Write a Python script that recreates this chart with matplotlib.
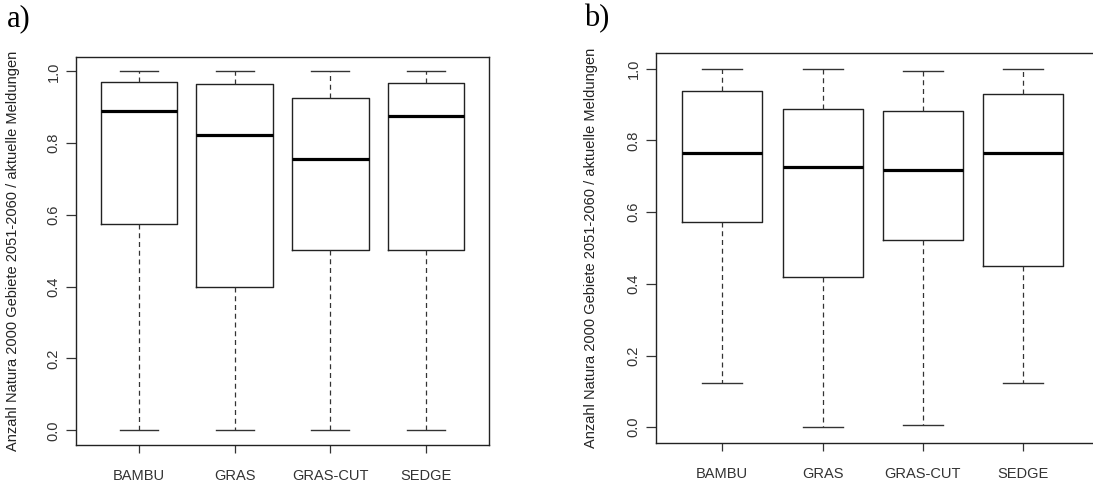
import matplotlib.pyplot as plt

plt.rcParams['font.family'] = ['Liberation Sans', 'DejaVu Sans']

groups = ['BAMBU', 'GRAS', 'GRAS-CUT', 'SEDGE']

# a) Boxplot-Kennwerte
a_lo = [0.0, 0.0, 0.0, 0.0]
a_q1 = [0.574, 0.400, 0.502, 0.502]
a_med = [0.890, 0.824, 0.757, 0.876]
a_q3 = [0.970, 0.965, 0.926, 0.968]
a_hi = [1.0, 1.0, 1.0, 1.0]

# b) Boxplot-Kennwerte
b_lo = [0.123, 0.0, 0.007, 0.123]
b_q1 = [0.572, 0.418, 0.522, 0.449]
b_med = [0.764, 0.725, 0.717, 0.764]
b_q3 = [0.939, 0.889, 0.881, 0.930]
b_hi = [1.0, 1.0, 0.993, 1.0]

ylab = 'Anzahl Natura 2000 Gebiete 2051-2060 / aktuelle Meldungen'
W, H = 1093, 486


def panel(rect, lo, q1, med, q3, hi, xlim, ylim, tag, tagpos):
    l, t, r, b = rect
    ax = fig.add_axes([l / W, 1 - b / H, (r - l) / W, (b - t) / H])
    stats = [dict(label=g, whislo=w0, q1=a, med=m, q3=c, whishi=w1)
             for g, w0, a, m, c, w1 in zip(groups, lo, q1, med, q3, hi)]
    ax.bxp(stats, positions=[1, 2, 3, 4], widths=0.8, capwidths=0.4,
           showfliers=False,
           boxprops=dict(color='#222222', linewidth=1.0),
           medianprops=dict(color='black', linewidth=2.3, solid_capstyle='butt'),
           whiskerprops=dict(color='#333333', linewidth=0.9, linestyle=(0, (4, 3))),
           capprops=dict(color='#333333', linewidth=1.0))
    ax.set_xlim(*xlim)
    ax.set_ylim(*ylim)
    ax.set_yticks([0, 0.2, 0.4, 0.6, 0.8, 1.0])
    ax.set_yticklabels(['0.0', '0.2', '0.4', '0.6', '0.8', '1.0'],
                       rotation=90, va='center')
    ax.tick_params(axis='y', length=7, width=0.9, pad=4, labelsize=10.5,
                   colors='#333333')
    ax.tick_params(axis='x', length=6, width=0.9, pad=11, labelsize=10.5,
                   colors='#333333')
    for s in ax.spines.values():
        s.set_linewidth(1.0)
        s.set_color('#222222')
    ax.set_ylabel(ylab, fontsize=10.5, color='#222222')
    ax.yaxis.set_label_coords(-(l - tagpos[2]) / (r - l), 0.5)
    fig.text(tagpos[0] / W, 1 - tagpos[1] / H, tag, family='Liberation Serif',
             fontsize=22, ha='left', va='center')
    return ax


fig = plt.figure(figsize=(W / 100, H / 100), dpi=100)

panel((76, 57, 489, 445), a_lo, a_q1, a_med, a_q3, a_hi,
      (0.34, 4.66), (-0.041, 1.040), 'a)', (7, 19, 20))
panel((656, 53, 1096, 443), b_lo, b_q1, b_med, b_q3, b_hi,
      (0.339, 4.725), (-0.044, 1.044), 'b)', (584, 19, 598))

fig.savefig('out.png', dpi=100)
